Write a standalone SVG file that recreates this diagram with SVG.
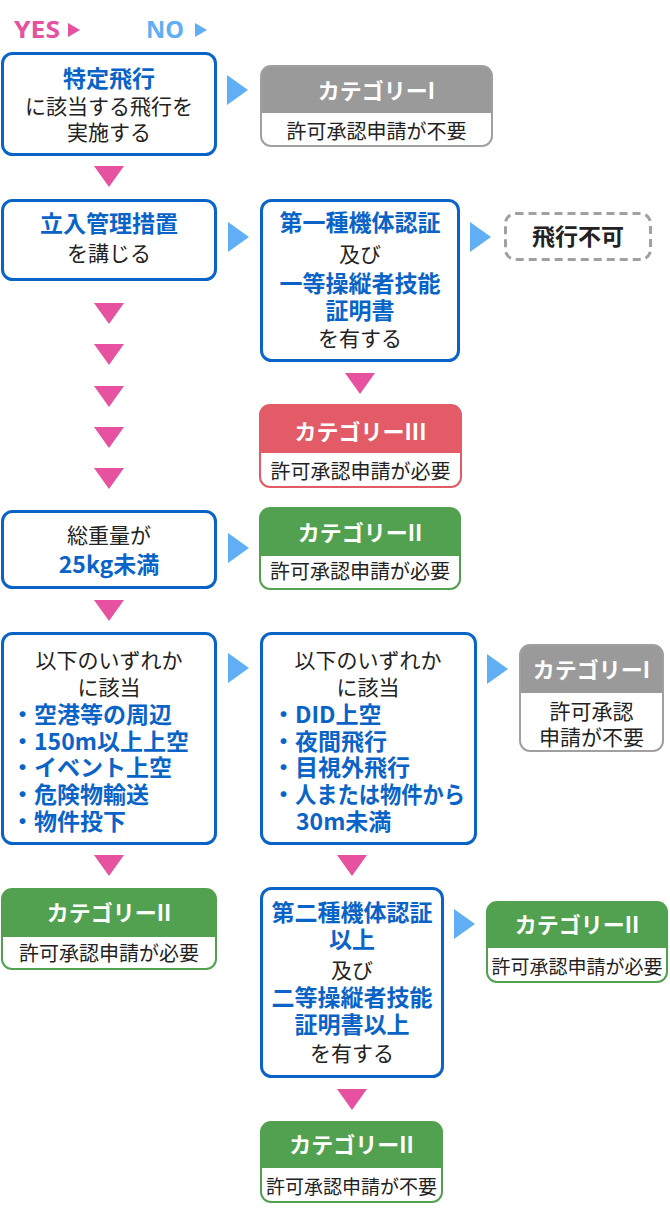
<svg xmlns="http://www.w3.org/2000/svg" width="670" height="1214" viewBox="0 0 670 1214">
<style>
.bx{fill:#fff;stroke:#0a64c8;stroke-width:3}
.t{font-family:"Noto Sans CJK JP","Noto Sans",sans-serif;font-size:21px;fill:#222;text-anchor:middle}
.b{font-weight:700;font-size:23px;fill:#0a64c8}
.k{font-weight:700;font-size:23px;fill:#222}
.h{font-weight:700;font-size:22px;fill:#fff}
.s{font-size:20px}
.s19{font-size:19px}
.l{text-anchor:start}
.pk{fill:#e6529f}
.bl{fill:#60aff4}
.gy{fill:#9a9a9a}
.gyo{fill:none;stroke:#a0a0a0;stroke-width:2}
.rd{fill:#e25b66}
.rdo{fill:none;stroke:#e25b66;stroke-width:2}
.gr{fill:#52a150}
.gro{fill:none;stroke:#52a150;stroke-width:2}
.wh{fill:#fff}
.lg{font-family:"Noto Sans","DejaVu Sans",sans-serif;font-weight:700;font-size:23px}
</style>
<defs>
<path id="td" d="M-15,0 L15,0 L0,21 Z"/>
<path id="tr" d="M0,-15 L21,0 L0,15 Z"/>
</defs>
<rect width="670" height="1214" fill="#fff"/>

<g id="legend">
<text class="lg pk" x="14" y="38" textLength="46" lengthAdjust="spacingAndGlyphs">YES</text>
<path class="pk" d="M68,23 L80,30 L68,37 Z"/>
<text class="lg bl" x="146" y="38" textLength="38" lengthAdjust="spacingAndGlyphs">NO</text>
<path class="bl" d="M195,23 L207,30 L195,37 Z"/>
</g>

<g id="connectors">
<use href="#td" class="pk" x="109" y="166"/>
<use href="#td" class="pk" x="109" y="303"/>
<use href="#td" class="pk" x="109" y="344"/>
<use href="#td" class="pk" x="109" y="386"/>
<use href="#td" class="pk" x="109" y="427"/>
<use href="#td" class="pk" x="109" y="468"/>
<use href="#td" class="pk" x="360" y="373"/>
<use href="#td" class="pk" x="109" y="600"/>
<use href="#td" class="pk" x="109" y="855"/>
<use href="#td" class="pk" x="352" y="855"/>
<use href="#td" class="pk" x="352" y="1089"/>
<use href="#tr" class="bl" x="227" y="90"/>
<use href="#tr" class="bl" x="228" y="237"/>
<use href="#tr" class="bl" x="470" y="237"/>
<use href="#tr" class="bl" x="228" y="548"/>
<use href="#tr" class="bl" x="228" y="668"/>
<use href="#tr" class="bl" x="487" y="669"/>
<use href="#tr" class="bl" x="454" y="924"/>
</g>

<g id="q-tokutei">
<rect class="bx" x="2.5" y="53.5" width="213" height="101" rx="10"/>
<text class="t b" x="109" y="87">特定飛行</text>
<text class="t" x="109" y="114">に該当する飛行を</text>
<text class="t" x="109" y="140">実施する</text>
</g>

<g id="cat1-top">
<rect class="wh" x="261" y="66" width="231" height="80" rx="10"/>
<path class="gy" d="M261,113 V76 A10,10 0 0 1 271,66 H482 A10,10 0 0 1 492,76 V113 Z"/>
<rect class="gyo" x="261" y="66" width="231" height="80" rx="10"/>
<text class="t h" x="376.5" y="99">カテゴリーI</text>
<text class="t s" x="376.5" y="139">許可承認申請が不要</text>
</g>

<g id="q-tachiiri">
<rect class="bx" x="2.5" y="200.5" width="213" height="79" rx="10"/>
<text class="t b" x="109" y="232">立入管理措置</text>
<text class="t" x="109" y="261">を講じる</text>
</g>

<g id="q-cert1">
<rect class="bx" x="261.5" y="200.5" width="197" height="160" rx="10"/>
<text class="t b" x="360" y="231">第一種機体認証</text>
<text class="t" x="360" y="262">及び</text>
<text class="t b" x="360" y="292">一等操縦者技能</text>
<text class="t b" x="360" y="319">証明書</text>
<text class="t" x="360" y="346">を有する</text>
</g>

<g id="no-flight">
<rect x="505.5" y="213.5" width="145" height="46" rx="10" fill="#fff" stroke="#a0a0a0" stroke-width="3" stroke-dasharray="8 5"/>
<text class="t k" x="578" y="245">飛行不可</text>
</g>

<g id="cat3">
<rect class="wh" x="260" y="405" width="201" height="82" rx="10"/>
<path class="rd" d="M260,453 V415 A10,10 0 0 1 270,405 H451 A10,10 0 0 1 461,415 V453 Z"/>
<rect class="rdo" x="260" y="405" width="201" height="82" rx="10"/>
<text class="t h" x="360.5" y="440">カテゴリーIII</text>
<text class="t s" x="360.5" y="479">許可承認申請が必要</text>
</g>

<g id="q-weight">
<rect class="bx" x="2.5" y="511.5" width="213" height="76" rx="10"/>
<text class="t" x="109" y="543">総重量が</text>
<text class="t b" x="109" y="573">25kg未満</text>
</g>

<g id="cat2-weight">
<rect class="wh" x="260" y="508" width="200" height="81" rx="10"/>
<path class="gr" d="M260,556 V518 A10,10 0 0 1 270,508 H450 A10,10 0 0 1 460,518 V556 Z"/>
<rect class="gro" x="260" y="508" width="200" height="81" rx="10"/>
<text class="t h" x="360" y="541">カテゴリーII</text>
<text class="t s" x="360" y="579">許可承認申請が必要</text>
</g>

<g id="q-list1">
<rect class="bx" x="2.5" y="633.5" width="213" height="210" rx="10"/>
<text class="t" x="109" y="668">以下のいずれか</text>
<text class="t" x="109" y="695">に該当</text>
<text class="t b l" y="723"><tspan x="11">・</tspan><tspan x="34">空港等の周辺</tspan></text>
<text class="t b l" y="750"><tspan x="11">・</tspan><tspan x="34">150m以上上空</tspan></text>
<text class="t b l" y="776"><tspan x="11">・</tspan><tspan x="34">イベント上空</tspan></text>
<text class="t b l" y="803"><tspan x="11">・</tspan><tspan x="34">危険物輸送</tspan></text>
<text class="t b l" y="830"><tspan x="11">・</tspan><tspan x="34">物件投下</tspan></text>
</g>

<g id="q-list2">
<rect class="bx" x="261.5" y="633.5" width="214" height="210" rx="10"/>
<text class="t" x="368" y="668">以下のいずれか</text>
<text class="t" x="368" y="695">に該当</text>
<text class="t b l" y="723"><tspan x="272">・</tspan><tspan x="295">DID上空</tspan></text>
<text class="t b l" y="750"><tspan x="272">・</tspan><tspan x="295">夜間飛行</tspan></text>
<text class="t b l" y="776"><tspan x="272">・</tspan><tspan x="295">目視外飛行</tspan></text>
<text class="t b l" y="803"><tspan x="272">・</tspan><tspan x="295" textLength="170" lengthAdjust="spacingAndGlyphs">人または物件から</tspan></text>
<text class="t b l" x="296" y="830">30m未満</text>
</g>

<g id="cat1-small">
<rect class="wh" x="520" y="645" width="143" height="106" rx="10"/>
<path class="gy" d="M520,693 V655 A10,10 0 0 1 530,645 H653 A10,10 0 0 1 663,655 V693 Z"/>
<rect class="gyo" x="520" y="645" width="143" height="106" rx="10"/>
<text class="t h" x="591.5" y="678">カテゴリーI</text>
<text class="t" x="591.5" y="719">許可承認</text>
<text class="t" x="591.5" y="745">申請が不要</text>
</g>

<g id="cat2-left">
<rect class="wh" x="2" y="889" width="214" height="80" rx="10"/>
<path class="gr" d="M2,937 V899 A10,10 0 0 1 12,889 H206 A10,10 0 0 1 216,899 V937 Z"/>
<rect class="gro" x="2" y="889" width="214" height="80" rx="10"/>
<text class="t h" x="109" y="921">カテゴリーII</text>
<text class="t s" x="109" y="961">許可承認申請が必要</text>
</g>

<g id="q-cert2">
<rect class="bx" x="261.5" y="888.5" width="181" height="188" rx="10"/>
<text class="t b" x="352" y="921">第二種機体認証</text>
<text class="t b" x="352" y="948">以上</text>
<text class="t" x="352" y="978">及び</text>
<text class="t b" x="352" y="1006">二等操縦者技能</text>
<text class="t b" x="352" y="1033">証明書以上</text>
<text class="t" x="352" y="1061">を有する</text>
</g>

<g id="cat2-right">
<rect class="wh" x="487" y="902" width="180" height="80" rx="10"/>
<path class="gr" d="M487,948 V912 A10,10 0 0 1 497,902 H657 A10,10 0 0 1 667,912 V948 Z"/>
<rect class="gro" x="487" y="902" width="180" height="80" rx="10"/>
<text class="t h" x="577" y="933">カテゴリーII</text>
<text class="t s19" x="577" y="974">許可承認申請が必要</text>
</g>

<g id="cat2-bottom">
<rect class="wh" x="261" y="1122" width="181" height="80" rx="10"/>
<path class="gr" d="M261,1168 V1132 A10,10 0 0 1 271,1122 H432 A10,10 0 0 1 442,1132 V1168 Z"/>
<rect class="gro" x="261" y="1122" width="181" height="80" rx="10"/>
<text class="t h" x="351.5" y="1153">カテゴリーII</text>
<text class="t s19" x="351.5" y="1194">許可承認申請が不要</text>
</g>
</svg>
